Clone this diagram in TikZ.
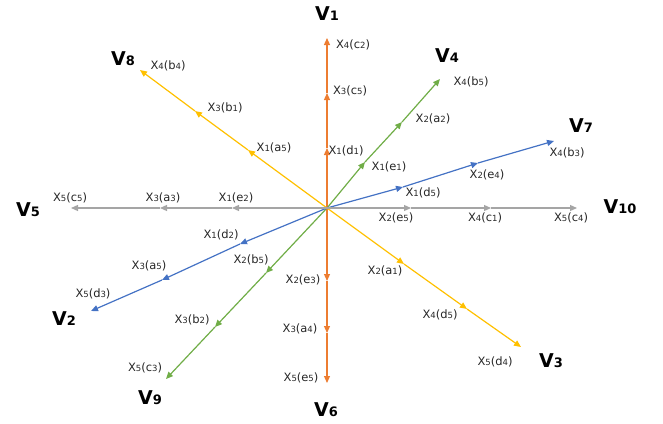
\documentclass[tikz,border=0pt]{standalone}
\usepackage{fontspec}
\setmainfont{DejaVu Sans}
\usetikzlibrary{arrows.meta}

\definecolor{vorange}{HTML}{ED7D31}
\definecolor{vyellow}{HTML}{FFC000}
\definecolor{vgreen}{HTML}{70AD47}
\definecolor{vblue}{HTML}{4472C4}
\definecolor{vgray}{HTML}{A5A5A5}
\definecolor{labtext}{HTML}{262626}

% label macros: X_i(a_j) and V_k
\newcommand{\xlab}[3]{X{\fontsize{8.5}{8.5}\selectfont #1}(#2{\fontsize{8.5}{8.5}\selectfont #3})}
\newcommand{\vlab}[1]{V{\fontsize{13}{13}\selectfont #1}}

\begin{document}
\begin{tikzpicture}[x=1pt,y=-1pt,
	ray/.style={line width=1.2pt,-{Triangle[length=7pt,width=6pt]}},
	xl/.style={font=\fontsize{11.5}{11.5}\selectfont,text=labtext,inner sep=0pt},
	vl/.style={font=\bfseries\fontsize{19}{19}\selectfont,inner sep=0pt}]

		\useasboundingbox (0,0) rectangle (663,423);

		% Centre
		\coordinate (O) at (327,208);

		% Explicit coordinates of the arrow tips
		\coordinate (V1a) at (327,93);  \coordinate (V1b) at (327,148); \coordinate (V1c) at (327,38);
		\coordinate (V6a) at (327,281); \coordinate (V6b) at (327,333); \coordinate (V6c) at (327,383);
		\coordinate (V8a) at (195,111); \coordinate (V8b) at (248,150); \coordinate (V8c) at (140,70);
		\coordinate (V3a) at (404,264); \coordinate (V3b) at (467,309); \coordinate (V3c) at (521,347);
		\coordinate (V4a) at (365,162); \coordinate (V4b) at (402,122); \coordinate (V4c) at (440,79);
		\coordinate (V9a) at (266,273); \coordinate (V9b) at (215,327); \coordinate (V9c) at (166,379);
		\coordinate (V7a) at (403,187); \coordinate (V7b) at (478,163); \coordinate (V7c) at (554,141);
		\coordinate (V2a) at (240,244); \coordinate (V2b) at (162,280); \coordinate (V2c) at (91,311);
		\coordinate (V5a) at (232,208); \coordinate (V5b) at (160,208); \coordinate (V5c) at (71,208);
		\coordinate (V10a) at (411,208); \coordinate (V10b) at (491,208); \coordinate (V10c) at (577,208);

		% Draw the rays, segment by segment
		\draw[ray,vorange] (O)--(V1b); \draw[ray,vorange] (V1b)--(V1a); \draw[ray,vorange] (V1a)--(V1c);
		\draw[ray,vorange] (O)--(V6a); \draw[ray,vorange] (V6a)--(V6b); \draw[ray,vorange] (V6b)--(V6c);
		\draw[ray,vyellow] (O)--(V8b); \draw[ray,vyellow] (V8b)--(V8a); \draw[ray,vyellow] (V8a)--(V8c);
		\draw[ray,vyellow] (O)--(V3a); \draw[ray,vyellow] (V3a)--(V3b); \draw[ray,vyellow] (V3b)--(V3c);
		\draw[ray,vgreen] (O)--(V4a); \draw[ray,vgreen] (V4a)--(V4b); \draw[ray,vgreen] (V4b)--(V4c);
		\draw[ray,vgreen] (O)--(V9a); \draw[ray,vgreen] (V9a)--(V9b); \draw[ray,vgreen] (V9b)--(V9c);
		\draw[ray,vblue] (O)--(V7a); \draw[ray,vblue] (V7a)--(V7b); \draw[ray,vblue] (V7b)--(V7c);
		\draw[ray,vblue] (O)--(V2a); \draw[ray,vblue] (V2a)--(V2b); \draw[ray,vblue] (V2b)--(V2c);
		\draw[ray,vgray] (O)--(V5a); \draw[ray,vgray] (V5a)--(V5b); \draw[ray,vgray] (V5b)--(V5c);
		\draw[ray,vgray] (O)--(V10a); \draw[ray,vgray] (V10a)--(V10b); \draw[ray,vgray] (V10b)--(V10c);

		% Vertex labels
		\node[vl] (L1) at (327,14) {\vlab{1}};
		\node[vl] (L6) at (326,410) {\vlab{6}};
		\node[vl] (L8) at (123,59) {\vlab{8}};
		\node[vl] (L3) at (551,361) {\vlab{3}};
		\node[vl] (L4) at (447,56) {\vlab{4}};
		\node[vl] (L9) at (150,398) {\vlab{9}};
		\node[vl] (L7) at (581,126) {\vlab{7}};
		\node[vl] (L2) at (64,319) {\vlab{2}};
		\node[vl] (L5) at (28,210) {\vlab{5}};
		\node[vl] (L10) at (620,207) {\vlab{10}};

		% Manual labels along the rays
		\node[xl] (x1c2) at (353,45) {\xlab{4}{c}{2}};
		\node[xl] (x1c5) at (350,91) {\xlab{3}{c}{5}};
		\node[xl] (x1d1) at (346,151) {\xlab{1}{d}{1}};
		\node[xl] (x6e3) at (303,280) {\xlab{2}{e}{3}};
		\node[xl] (x6a4) at (300,329) {\xlab{3}{a}{4}};
		\node[xl] (x6e5) at (301,378) {\xlab{5}{e}{5}};
		\node[xl] (x8b4) at (168,66) {\xlab{4}{b}{4}};
		\node[xl] (x8b1) at (225,108) {\xlab{3}{b}{1}};
		\node[xl] (x8a5) at (274,148) {\xlab{1}{a}{5}};
		\node[xl] (x3a1) at (385,271) {\xlab{2}{a}{1}};
		\node[xl] (x3d5) at (440,315) {\xlab{4}{d}{5}};
		\node[xl] (x3d4) at (495,362) {\xlab{5}{d}{4}};
		\node[xl] (x4b5) at (471,82) {\xlab{4}{b}{5}};
		\node[xl] (x4a2) at (433,119) {\xlab{2}{a}{2}};
		\node[xl] (x4e1) at (389,167) {\xlab{1}{e}{1}};
		\node[xl] (x9b5) at (251,260) {\xlab{2}{b}{5}};
		\node[xl] (x9b2) at (192,320) {\xlab{3}{b}{2}};
		\node[xl] (x9c3) at (145,368) {\xlab{5}{c}{3}};
		\node[xl] (x7d5) at (423,193) {\xlab{1}{d}{5}};
		\node[xl] (x7e4) at (487,175) {\xlab{2}{e}{4}};
		\node[xl] (x7b3) at (567,153) {\xlab{4}{b}{3}};
		\node[xl] (x2d2) at (221,235) {\xlab{1}{d}{2}};
		\node[xl] (x2a5) at (149,266) {\xlab{3}{a}{5}};
		\node[xl] (x2d3) at (93,294) {\xlab{5}{d}{3}};
		\node[xl] (x5e2) at (236,198) {\xlab{1}{e}{2}};
		\node[xl] (x5a3) at (163,198) {\xlab{3}{a}{3}};
		\node[xl] (x5c5) at (70,198) {\xlab{5}{c}{5}};
		\node[xl] (x10e5) at (396,218) {\xlab{2}{e}{5}};
		\node[xl] (x10c1) at (485,218) {\xlab{4}{c}{1}};
		\node[xl] (x10c4) at (571,218) {\xlab{5}{c}{4}};

	\end{tikzpicture}
\end{document}
